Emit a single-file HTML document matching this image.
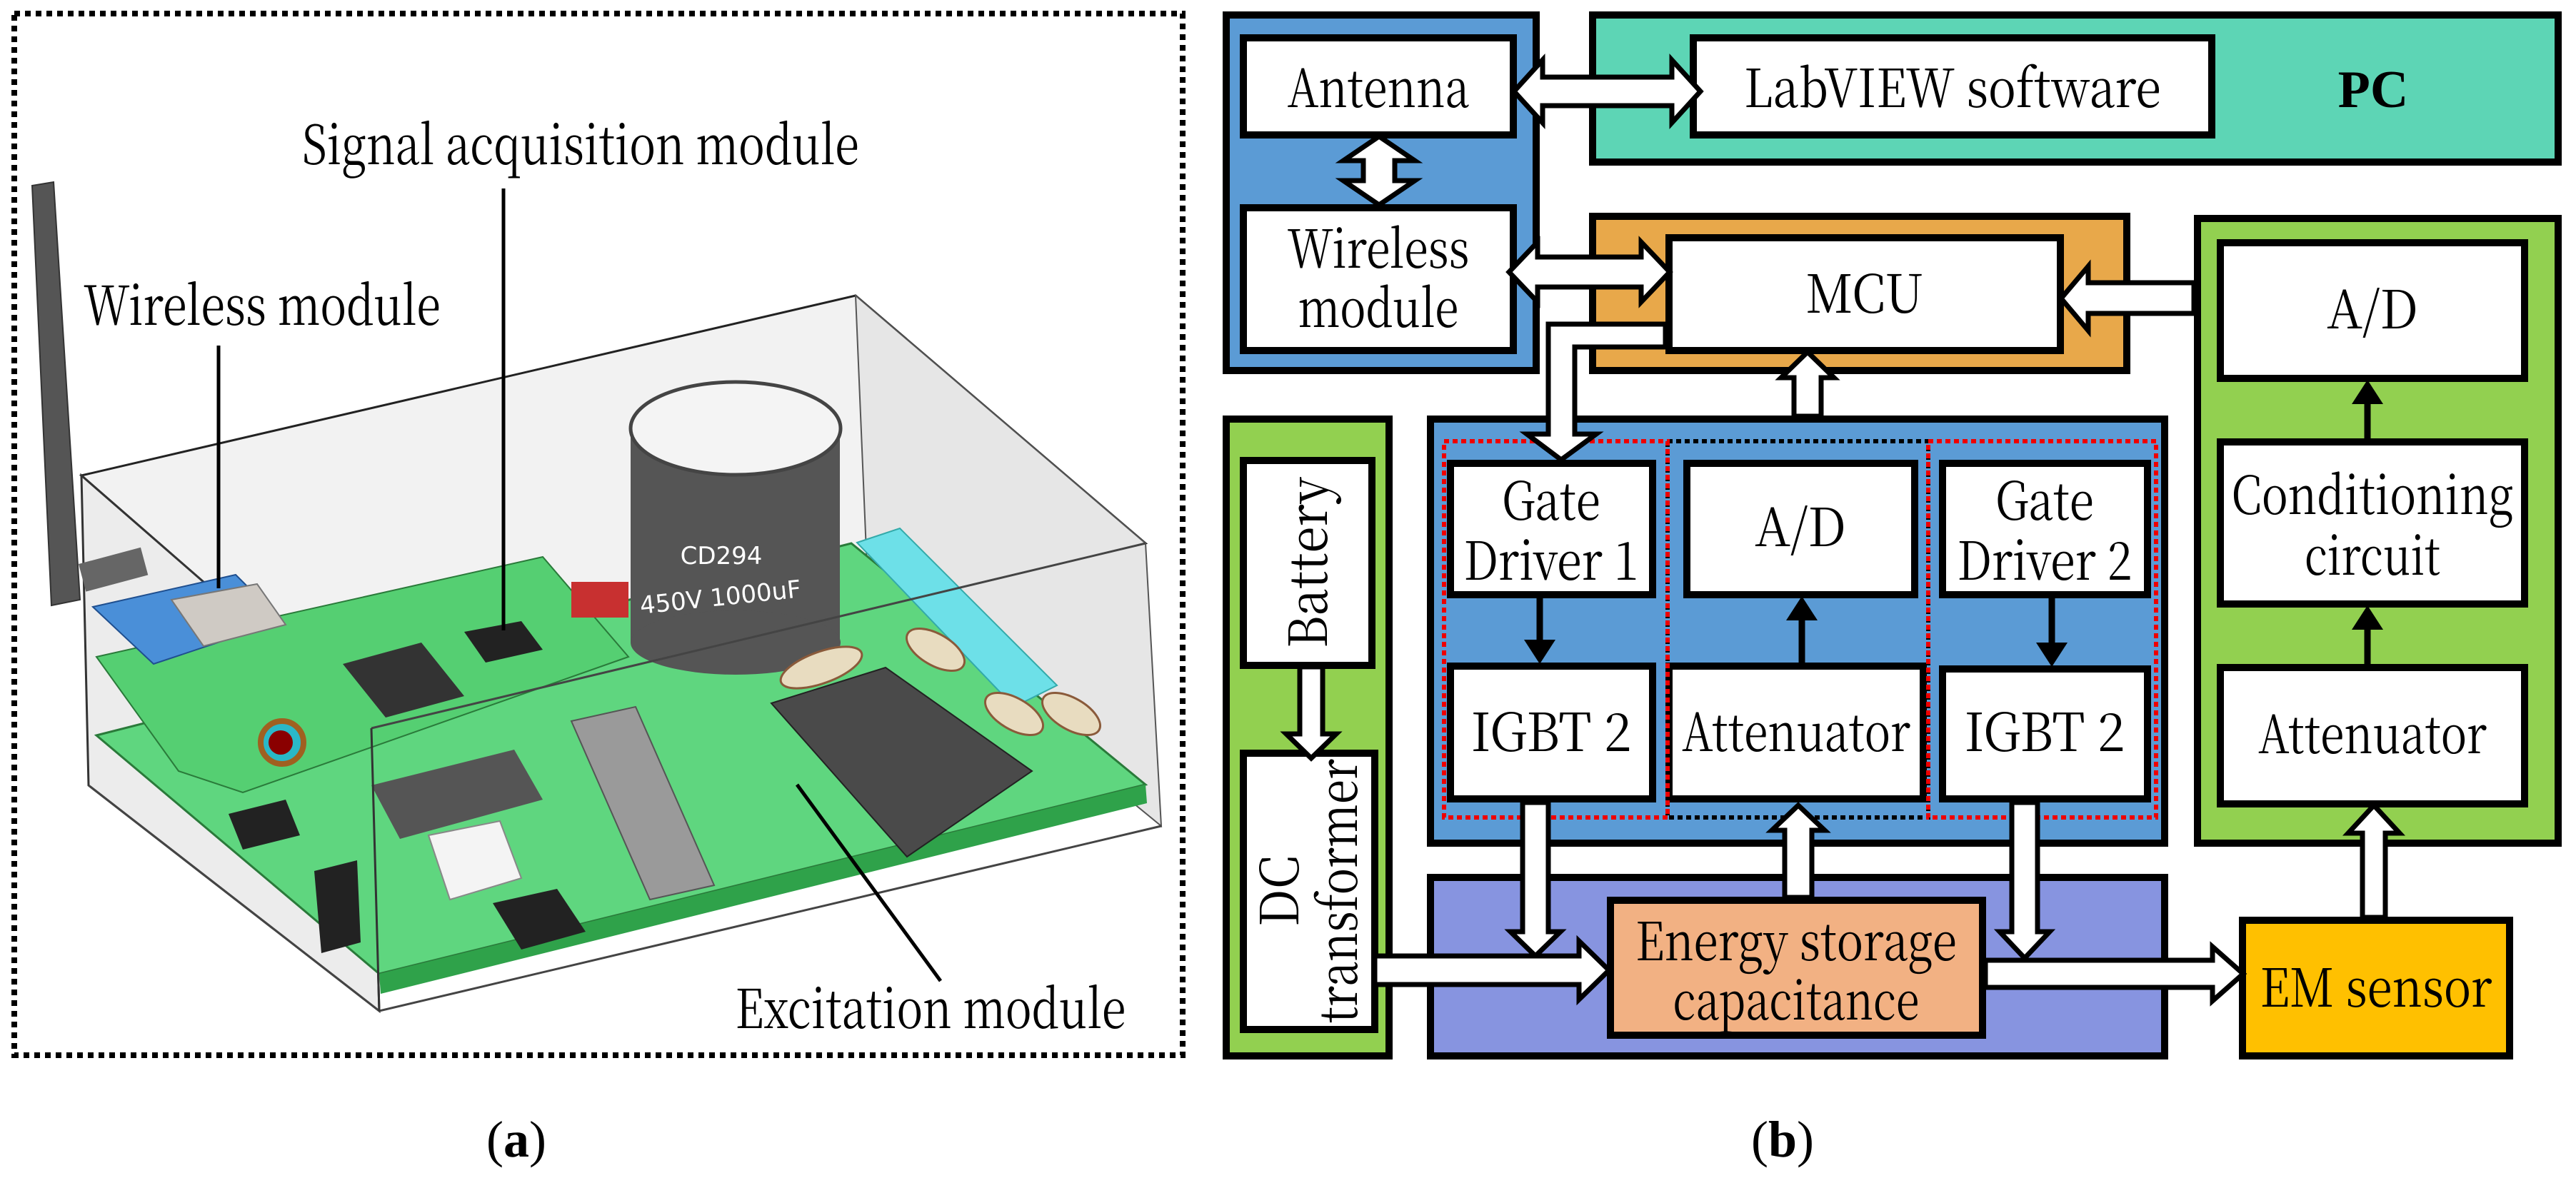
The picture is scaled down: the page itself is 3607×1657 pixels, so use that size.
<!DOCTYPE html>
<html><head><meta charset="utf-8"><style>
html,body{margin:0;padding:0;background:#fff;}
svg{display:block;}
</style></head><body>
<svg width="3607" height="1657" viewBox="0 0 3607 1657" xmlns="http://www.w3.org/2000/svg" font-family="'Noto Serif CJK SC', 'Liberation Serif', serif">
<!-- LEFT PANEL -->
<rect x="20" y="19" width="1636" height="1459" fill="none" stroke="#000" stroke-width="8" stroke-dasharray="8 7"/>
<polygon points="114,666 1198,414 1604,761 520,1020" fill="#f2f2f2" stroke="#222" stroke-width="3"/>
<polygon points="114,666 520,1020 531,1416 124,1100" fill="#ececec" stroke="#333" stroke-width="3"/>
<polygon points="1198,414 1604,761 1626,1157 1215,820" fill="#e6e6e6" stroke="#555" stroke-width="2"/>
<polygon points="135,1030 1192,761 1604,1099 531,1364" fill="#5fd67f" stroke="#2a7a3a" stroke-width="3"/>
<polygon points="531,1364 1604,1099 1606,1125 533,1392" fill="#2fa24a"/>
<polygon points="135,920 760,780 880,920 340,1110 250,1080" fill="#55cf72" stroke="#2a7a3a" stroke-width="2"/>
<polygon points="130,850 330,805 395,870 215,930" fill="#4a8fd8" stroke="#1f4f8f" stroke-width="2"/>
<polygon points="240,840 360,818 400,875 285,905" fill="#cfcac4" stroke="#777" stroke-width="2"/>
<polygon points="45,260 75,255 112,840 72,848" fill="#555" stroke="#333" stroke-width="2"/>
<rect x="110" y="790" width="90" height="40" fill="#666" transform="rotate(-15 110 790)"/>
<polygon points="480,930 590,900 650,975 540,1005" fill="#333"/>
<polygon points="650,885 730,870 760,910 680,928" fill="#222"/>
<polygon points="520,1100 720,1050 760,1120 560,1175" fill="#555"/>
<polygon points="800,1010 890,990 1000,1240 910,1260" fill="#9a9a9a" stroke="#555" stroke-width="2"/>
<polygon points="1080,985 1240,935 1445,1080 1270,1200" fill="#4a4a4a" stroke="#222" stroke-width="2"/>
<polygon points="1200,760 1260,740 1480,960 1420,990" fill="#6de0e8" stroke="#3aa" stroke-width="2"/>
<polygon points="600,1170 700,1150 730,1230 630,1260" fill="#f4f4f4" stroke="#888" stroke-width="2"/>
<polygon points="690,1265 780,1245 820,1305 730,1330" fill="#222"/>
<polygon points="320,1140 400,1120 420,1170 340,1190" fill="#222"/>
<polygon points="440,1220 500,1205 505,1320 450,1335" fill="#222"/>
<circle cx="395" cy="1040" r="30" fill="#2ab8c8" stroke="#a06020" stroke-width="8"/>
<circle cx="393" cy="1040" r="17" fill="#8a0000"/>
<rect x="883" y="600" width="293" height="300" fill="#555"/>
<ellipse cx="1030" cy="900" rx="147" ry="45" fill="#555"/>
<ellipse cx="1030" cy="600" rx="147" ry="65" fill="#f4f4f4" stroke="#444" stroke-width="5"/>
<text x="1010" y="790" font-family="DejaVu Sans, sans-serif" font-size="34" fill="#fff" text-anchor="middle">CD294</text>
<text x="1010" y="848" font-family="DejaVu Sans, sans-serif" font-size="34" fill="#fff" text-anchor="middle" transform="rotate(-6 1010 848)">450V 1000uF</text>
<ellipse cx="1150" cy="935" rx="60" ry="22" fill="#e8dcc0" stroke="#8a5a3a" stroke-width="3" transform="rotate(-20 1150 935)"/>
<ellipse cx="1310" cy="910" rx="45" ry="22" fill="#e8dcc0" stroke="#8a5a3a" stroke-width="3" transform="rotate(30 1310 910)"/>
<ellipse cx="1420" cy="1000" rx="45" ry="22" fill="#e8dcc0" stroke="#8a5a3a" stroke-width="3" transform="rotate(30 1420 1000)"/>
<ellipse cx="1500" cy="1000" rx="45" ry="22" fill="#e8dcc0" stroke="#8a5a3a" stroke-width="3" transform="rotate(30 1500 1000)"/>
<rect x="800" y="815" width="80" height="50" fill="#c83030"/>
<polyline points="124,1100 531,1416 1626,1157" fill="none" stroke="#444" stroke-width="3"/>
<polyline points="520,1020 1604,761" fill="none" stroke="#444" stroke-width="3"/>
<line x1="520" y1="1020" x2="531" y2="1416" stroke="#333" stroke-width="3"/>
<g font-size="76" text-anchor="middle">
<text x="813" y="230" textLength="780" lengthAdjust="spacingAndGlyphs">Signal acquisition module</text>
<text x="367" y="455" textLength="500" lengthAdjust="spacingAndGlyphs">Wireless module</text>
<text x="1303" y="1440" textLength="547" lengthAdjust="spacingAndGlyphs">Excitation module</text>
<text x="723" y="1620" font-size="72" font-family="Liberation Serif, serif">(<tspan font-weight="bold">a</tspan>)</text>
</g>
<line x1="705" y1="264" x2="705" y2="883" stroke="#000" stroke-width="5"/>
<line x1="306" y1="484" x2="306" y2="824" stroke="#000" stroke-width="5"/>
<line x1="1317" y1="1374" x2="1116" y2="1099" stroke="#000" stroke-width="5"/>

<!-- RIGHT PANEL -->
<g stroke="#000" stroke-width="10">
<rect x="1717" y="21" width="434" height="498" fill="#5b9bd5"/>
<rect x="2230" y="21" width="1352" height="206" fill="#5dd5b5"/>
<rect x="2230" y="303" width="748" height="216" fill="#e8a84a"/>
<rect x="3077" y="306" width="505" height="875" fill="#92d050"/>
<rect x="1717" y="587" width="228" height="892" fill="#92d050"/>
<rect x="2003" y="587" width="1028" height="594" fill="#5b9bd5"/>
<rect x="2003" y="1229" width="1028" height="250" fill="#8794e0"/>
<rect x="1741" y="53" width="378" height="136" fill="#fff"/>
<rect x="1741" y="291" width="378" height="200" fill="#fff"/>
<rect x="2371" y="53" width="726" height="136" fill="#fff"/>
<rect x="2337" y="333" width="548" height="158" fill="#fff"/>
<rect x="3109" y="340" width="426" height="190" fill="#fff"/>
<rect x="3109" y="619" width="426" height="227" fill="#fff"/>
<rect x="3109" y="935" width="426" height="191" fill="#fff"/>
<rect x="1741" y="645" width="180" height="287" fill="#fff"/>
<rect x="1741" y="1055" width="184" height="387" fill="#fff"/>
<rect x="2031" y="649" width="283" height="184" fill="#fff"/>
<rect x="2362" y="649" width="319" height="184" fill="#fff"/>
<rect x="2720" y="649" width="287" height="184" fill="#fff"/>
<rect x="2031" y="933" width="283" height="186" fill="#fff"/>
<rect x="2337" y="933" width="356" height="186" fill="#fff"/>
<rect x="2720" y="937" width="287" height="182" fill="#fff"/>
<rect x="2255" y="1261" width="521" height="189" fill="#f2b183"/>
<rect x="3140" y="1289" width="374" height="190" fill="#ffc000"/>
</g>
<rect x="2335" y="618" width="365" height="527" fill="none" stroke="#000" stroke-width="6" stroke-dasharray="7 5"/>
<rect x="2022" y="618" width="313" height="527" fill="none" stroke="#e00" stroke-width="6" stroke-dasharray="7 5"/>
<rect x="2700" y="618" width="319" height="527" fill="none" stroke="#e00" stroke-width="6" stroke-dasharray="7 5"/>

<g fill="#fff" stroke="#000" stroke-width="7" stroke-linejoin="miter">
<polygon points="2120,128 2160,84 2160,108 2341,108 2341,84 2381,128 2341,172 2341,148 2160,148 2160,172"/>
<polygon points="1931,191 1981,225 1953,225 1953,253 1981,253 1931,287 1881,253 1909,253 1909,225 1881,225"/>
<polygon points="2113,381 2153,339 2153,360 2298,360 2298,339 2338,381 2298,423 2298,402 2153,402 2153,423"/>
<polygon points="2886,418 2924,373 2924,396 3072,396 3072,439 2924,439 2924,463"/>
<polygon points="2531,493 2568,529 2550,529 2550,583 2512,583 2512,529 2494,529"/>
<polygon points="2332,454 2168,454 2168,608 2138,608 2186,644 2235,608 2205,608 2205,486 2332,486"/>
<polygon points="1836,1062 1871,1028 1852,1028 1852,934 1820,934 1820,1028 1801,1028"/>
<polygon points="2150,1339 2185,1305 2168,1305 2168,1124 2132,1124 2132,1305 2115,1305"/>
<polygon points="2518,1128 2555,1163 2537,1163 2537,1257 2499,1257 2499,1163 2481,1163"/>
<polygon points="2835,1342 2870,1305 2853,1305 2853,1124 2817,1124 2817,1305 2800,1305"/>
<polygon points="2253,1359 2211,1318 2211,1339 1925,1339 1925,1379 2211,1379 2211,1400"/>
<polygon points="3141,1364 3098,1326 3098,1345 2780,1345 2780,1383 3098,1383 3098,1402"/>
<polygon points="3324,1128 3360,1167 3340,1167 3340,1285 3308,1285 3308,1167 3288,1167"/>
</g>
<g stroke="#000" stroke-width="9">
<line x1="2156" y1="835" x2="2156" y2="900"/>
<line x1="2523" y1="929" x2="2523" y2="865"/>
<line x1="2873" y1="835" x2="2873" y2="905"/>
<line x1="3315" y1="615" x2="3315" y2="560"/>
<line x1="3315" y1="931" x2="3315" y2="876"/>
</g>
<g fill="#000">
<polygon points="2134,896 2178,896 2156,930"/>
<polygon points="2501,869 2545,869 2523,835"/>
<polygon points="2851,900 2895,900 2873,934"/>
<polygon points="3293,566 3337,566 3315,532"/>
<polygon points="3293,882 3337,882 3315,848"/>
</g>

<g font-size="74" text-anchor="middle" lengthAdjust="spacingAndGlyphs">
<text x="1930" y="150" textLength="255" lengthAdjust="spacingAndGlyphs">Antenna</text>
<text x="1930" y="375" textLength="255" lengthAdjust="spacingAndGlyphs">Wireless</text>
<text x="1930" y="458" textLength="225" lengthAdjust="spacingAndGlyphs">module</text>
<text x="2734" y="150" textLength="584" lengthAdjust="spacingAndGlyphs">LabVIEW software</text>
<text x="3323" y="150" font-weight="bold" font-family="Liberation Serif, serif">PC</text>
<text x="2611" y="438" textLength="165" lengthAdjust="spacingAndGlyphs">MCU</text>
<text x="3322" y="460" textLength="128" lengthAdjust="spacingAndGlyphs">A/D</text>
<text x="3322" y="720" textLength="395" lengthAdjust="spacingAndGlyphs">Conditioning</text>
<text x="3322" y="805" textLength="190" lengthAdjust="spacingAndGlyphs">circuit</text>
<text x="3322" y="1055" textLength="320" lengthAdjust="spacingAndGlyphs">Attenuator</text>
<text x="2172" y="728" textLength="138" lengthAdjust="spacingAndGlyphs">Gate</text>
<text x="2172" y="812" textLength="245" lengthAdjust="spacingAndGlyphs">Driver 1</text>
<text x="2521" y="765" textLength="128" lengthAdjust="spacingAndGlyphs">A/D</text>
<text x="2863" y="728" textLength="138" lengthAdjust="spacingAndGlyphs">Gate</text>
<text x="2863" y="812" textLength="245" lengthAdjust="spacingAndGlyphs">Driver 2</text>
<text x="2172" y="1052" textLength="225" lengthAdjust="spacingAndGlyphs">IGBT 2</text>
<text x="2515" y="1052" textLength="320" lengthAdjust="spacingAndGlyphs">Attenuator</text>
<text x="2863" y="1052" textLength="225" lengthAdjust="spacingAndGlyphs">IGBT 2</text>
<text x="2515" y="1345" textLength="450" lengthAdjust="spacingAndGlyphs">Energy storage</text>
<text x="2515" y="1428" textLength="345" lengthAdjust="spacingAndGlyphs">capacitance</text>
<text x="3327" y="1410" textLength="325" lengthAdjust="spacingAndGlyphs">EM sensor</text>
<text transform="translate(1858 788) rotate(-90)" textLength="240" lengthAdjust="spacingAndGlyphs">Battery</text>
<text transform="translate(1818 1248) rotate(-90)" textLength="100" lengthAdjust="spacingAndGlyphs">DC</text>
<text transform="translate(1900 1248) rotate(-90)" textLength="370" lengthAdjust="spacingAndGlyphs">transformer</text>
<text x="2496" y="1620" font-size="72" font-family="Liberation Serif, serif">(<tspan font-weight="bold">b</tspan>)</text>
</g>
</svg>
</body></html>
